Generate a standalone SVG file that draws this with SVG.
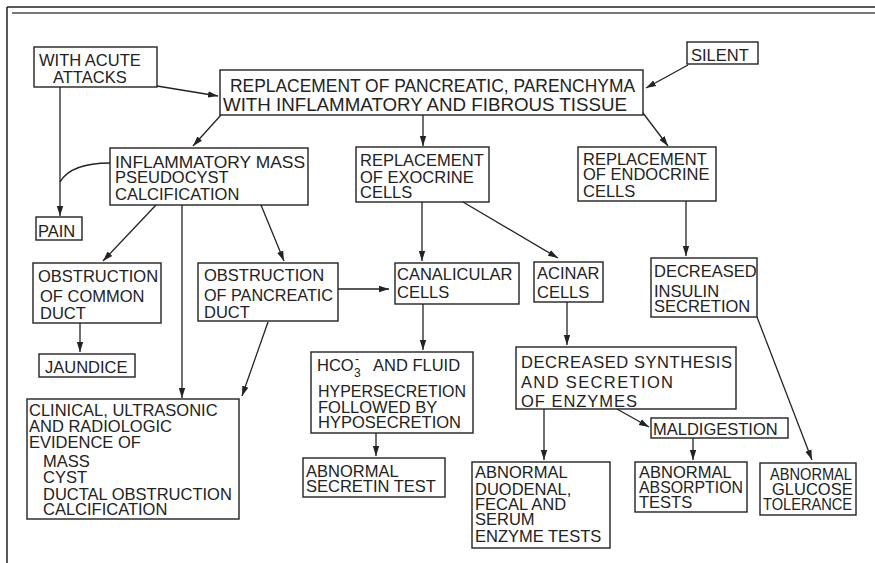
<svg xmlns="http://www.w3.org/2000/svg" width="875" height="563" viewBox="0 0 875 563">
<style>
.b{fill:none;stroke:#222;stroke-width:1.4}
.t{font-family:"Liberation Sans",Arial,sans-serif;font-size:16.5px;fill:#222}
.m{font-size:18px}
.c path{fill:none;stroke:#222;stroke-width:1.3}
.f{fill:none;stroke:#222}
</style>
<defs>
<marker id="a" markerUnits="userSpaceOnUse" markerWidth="11" markerHeight="8" refX="10" refY="4" orient="auto">
<path d="M0,0.8 L10,4 L0,7.2 z" fill="#222"/>
</marker>
</defs>
<rect width="875" height="563" fill="#fff"/>
<g id="frame">
<line class="f" x1="7" y1="7" x2="875" y2="7" stroke-width="1.5"/>
<line x1="12" y1="13" x2="875" y2="13" stroke="#777" stroke-width="2"/>
<line class="f" x1="7" y1="7" x2="7" y2="563" stroke-width="1.5"/>
</g>
<g id="connectors" class="c">
<path d="M157,86 L218,96" marker-end="url(#a)"/>
<path d="M688,65 L646,88" marker-end="url(#a)"/>
<path d="M221,115 L193,146" marker-end="url(#a)"/>
<path d="M423,115 L423,146" marker-end="url(#a)"/>
<path d="M643,113 L668,146" marker-end="url(#a)"/>
<path d="M60,87 L60,216" marker-end="url(#a)"/>
<path d="M110,163 C88,163 68,168 60,182"/>
<path d="M156,205 L103,261" marker-end="url(#a)"/>
<path d="M182,205 L182,398" marker-end="url(#a)"/>
<path d="M261,205 L284,261" marker-end="url(#a)"/>
<path d="M422,202 L422,261" marker-end="url(#a)"/>
<path d="M463,202 L558,258" marker-end="url(#a)"/>
<path d="M686,201 L686,256" marker-end="url(#a)"/>
<path d="M80,323 L80,352" marker-end="url(#a)"/>
<path d="M338,289 L389,289" marker-end="url(#a)"/>
<path d="M268,322 L242,396" marker-end="url(#a)"/>
<path d="M423,304 L423,350" marker-end="url(#a)"/>
<path d="M567,302 L567,345" marker-end="url(#a)"/>
<path d="M757,317 L812,460" marker-end="url(#a)"/>
<path d="M376,433 L376,456" marker-end="url(#a)"/>
<path d="M544,409 L544,460" marker-end="url(#a)"/>
<path d="M617,409 L649,427" marker-end="url(#a)"/>
<path d="M693,438 L693,460" marker-end="url(#a)"/>
</g>
<g id="acute"><rect class="b" x="34" y="47" width="123" height="40"/>
<text class="t"><tspan x="39" y="66">WITH ACUTE</tspan><tspan x="53" y="83">ATTACKS</tspan></text></g>
<g id="silent"><rect class="b" x="687" y="42" width="71" height="22"/>
<text class="t" x="691" y="61">SILENT</text></g>
<g id="main"><rect class="b" x="220" y="70" width="423" height="45"/>
<text class="t m"><tspan x="230" y="92" textLength="405" lengthAdjust="spacingAndGlyphs">REPLACEMENT OF PANCREATIC, PARENCHYMA</tspan><tspan x="223" y="111" textLength="404" lengthAdjust="spacingAndGlyphs">WITH INFLAMMATORY AND FIBROUS TISSUE</tspan></text></g>
<g id="inflam"><rect class="b" x="110" y="148" width="198" height="57"/>
<text class="t"><tspan x="115" y="168" textLength="190" lengthAdjust="spacingAndGlyphs">INFLAMMATORY MASS</tspan><tspan x="115" y="183">PSEUDOCYST</tspan><tspan x="115" y="200">CALCIFICATION</tspan></text></g>
<g id="exocrine"><rect class="b" x="356" y="147" width="133" height="55"/>
<text class="t"><tspan x="360" y="166">REPLACEMENT</tspan><tspan x="360" y="183">OF EXOCRINE</tspan><tspan x="360" y="198">CELLS</tspan></text></g>
<g id="endocrine"><rect class="b" x="578" y="147" width="138" height="54"/>
<text class="t"><tspan x="583" y="165">REPLACEMENT</tspan><tspan x="583" y="180">OF ENDOCRINE</tspan><tspan x="583" y="197">CELLS</tspan></text></g>
<g id="pain"><rect class="b" x="36" y="217" width="46" height="23"/>
<text class="t" x="38" y="237">PAIN</text></g>
<g id="obsCommon"><rect class="b" x="33" y="263" width="128" height="60"/>
<text class="t"><tspan x="38" y="282">OBSTRUCTION</tspan><tspan x="40" y="302">OF COMMON</tspan><tspan x="40" y="319">DUCT</tspan></text></g>
<g id="obsPanc"><rect class="b" x="198" y="263" width="140" height="58"/>
<text class="t"><tspan x="204" y="281">OBSTRUCTION</tspan><tspan x="204" y="301" textLength="129" lengthAdjust="spacingAndGlyphs">OF PANCREATIC</tspan><tspan x="204" y="318">DUCT</tspan></text></g>
<g id="canalicular"><rect class="b" x="395" y="263" width="124" height="41"/>
<text class="t"><tspan x="397" y="280">CANALICULAR</tspan><tspan x="397" y="298">CELLS</tspan></text></g>
<g id="acinar"><rect class="b" x="534" y="262" width="69" height="40"/>
<text class="t"><tspan x="537" y="279">ACINAR</tspan><tspan x="537" y="298">CELLS</tspan></text></g>
<g id="insulin"><rect class="b" x="651" y="258" width="106" height="59"/>
<text class="t"><tspan x="654" y="277">DECREASED</tspan><tspan x="654" y="297">INSULIN</tspan><tspan x="654" y="312">SECRETION</tspan></text></g>
<g id="jaundice"><rect class="b" x="39" y="354" width="96" height="23"/>
<text class="t" x="45" y="373">JAUNDICE</text></g>
<g id="hco3"><rect class="b" x="311" y="352" width="162" height="81"/>
<text class="t"><tspan x="317" y="371">HCO</tspan><tspan x="354" y="377" font-size="12">3</tspan><tspan x="355" y="363" font-size="12">-</tspan><tspan x="373" y="371">AND FLUID</tspan><tspan x="318" y="397" textLength="148" lengthAdjust="spacingAndGlyphs">HYPERSECRETION</tspan><tspan x="318" y="413">FOLLOWED BY</tspan><tspan x="318" y="428">HYPOSECRETION</tspan></text></g>
<g id="synthesis"><rect class="b" x="516" y="347" width="220" height="62"/>
<text class="t"><tspan x="521" y="368" textLength="211" lengthAdjust="spacing">DECREASED SYNTHESIS</tspan><tspan x="521" y="388" textLength="152" lengthAdjust="spacing">AND SECRETION</tspan><tspan x="521" y="407" textLength="116" lengthAdjust="spacing">OF ENZYMES</tspan></text></g>
<g id="clinical"><rect class="b" x="27" y="399" width="212" height="120"/>
<text class="t"><tspan x="29" y="416">CLINICAL, ULTRASONIC</tspan><tspan x="29" y="432">AND RADIOLOGIC</tspan><tspan x="29" y="448">EVIDENCE OF</tspan><tspan x="43" y="467">MASS</tspan><tspan x="43" y="483">CYST</tspan><tspan x="43" y="500">DUCTAL OBSTRUCTION</tspan><tspan x="43" y="515">CALCIFICATION</tspan></text></g>
<g id="secretin"><rect class="b" x="303" y="458" width="142" height="39"/>
<text class="t"><tspan x="306" y="477">ABNORMAL</tspan><tspan x="306" y="492">SECRETIN TEST</tspan></text></g>
<g id="maldigestion"><rect class="b" x="651" y="418" width="137" height="20"/>
<text class="t" x="653" y="435">MALDIGESTION</text></g>
<g id="duodenal"><rect class="b" x="472" y="462" width="138" height="86"/>
<text class="t"><tspan x="475" y="478">ABNORMAL</tspan><tspan x="475" y="495">DUODENAL,</tspan><tspan x="475" y="510">FECAL AND</tspan><tspan x="475" y="525">SERUM</tspan><tspan x="475" y="542">ENZYME TESTS</tspan></text></g>
<g id="absorption"><rect class="b" x="635" y="462" width="112" height="50"/>
<text class="t"><tspan x="639" y="478">ABNORMAL</tspan><tspan x="639" y="493" textLength="104" lengthAdjust="spacingAndGlyphs">ABSORPTION</tspan><tspan x="639" y="508">TESTS</tspan></text></g>
<g id="glucose"><rect class="b" x="760" y="463" width="96" height="52"/>
<text class="t"><tspan x="770" y="480" textLength="82" lengthAdjust="spacingAndGlyphs">ABNORMAL</tspan><tspan x="772" y="495">GLUCOSE</tspan><tspan x="763" y="510" textLength="89" lengthAdjust="spacingAndGlyphs">TOLERANCE</tspan></text></g>
</svg>
